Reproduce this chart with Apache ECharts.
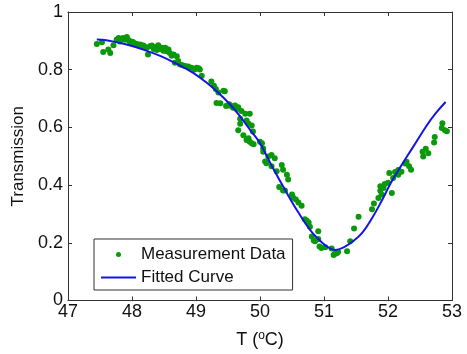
<!DOCTYPE html>
<html>
<head>
<meta charset="utf-8">
<script src="https://cdn.jsdelivr.net/npm/echarts@6/dist/echarts.min.js"></script>
<style>html,body{margin:0;padding:0;background:#fff;}#c{width:467px;height:354px;}</style>
</head>
<body>
<div id="c"></div>
<script>
// Measured data (T in degC, transmission)
const measT = [47.45,47.53,47.55,47.63,47.66,47.71,47.76,47.79,47.81,47.84,47.86,47.89,47.92,47.95,47.97,48.00,48.02,48.05,48.07,48.10,48.13,48.15,48.18,48.21,48.23,48.25,48.28,48.31,48.34,48.36,48.39,48.41,48.44,48.46,48.49,48.52,48.54,48.57,48.59,48.62,48.65,48.67,48.70,48.72,48.75,48.79,48.83,48.88,48.93,48.98,49.01,49.04,49.06,49.09,
49.24,49.28,49.31,49.32,49.35,49.38,49.43,49.45,49.47,49.50,49.52,49.56,49.58,49.61,49.64,49.66,49.66,49.69,49.69,49.71,49.74,49.77,49.79,49.79,49.82,49.82,49.84,49.84,49.87,49.87,49.89,49.90,50.00,50.03,50.05,50.05,50.08,50.10,50.13,50.18,50.18,50.23,50.26,50.30,50.34,50.36,50.36,50.39,50.42,50.44,50.50,50.52,50.56,50.60,50.65,50.70,50.73,50.76,50.78,50.81,50.84,50.86,50.91,50.91,50.93,50.96,51.02,51.12,51.15,51.17,51.20,51.22,51.36,51.41,51.47,51.54,
51.75,51.78,51.85,51.88,51.88,51.90,51.93,51.95,52.00,52.02,52.06,52.08,52.11,52.16,52.16,52.21,52.27,52.29,52.33,52.36,52.54,52.55,52.59,52.63,52.72,52.73,52.84,52.85,52.89,52.92];
const measTr = [0.889,0.895,0.861,0.870,0.858,0.885,0.904,0.910,0.898,0.906,0.910,0.904,0.913,0.902,0.893,0.897,0.895,0.888,0.890,0.885,0.887,0.880,0.884,0.878,0.876,0.853,0.881,0.884,0.872,0.879,0.868,0.885,0.872,0.876,0.866,0.876,0.864,0.870,0.858,0.848,0.853,0.824,0.847,0.830,0.818,0.815,0.813,0.811,0.807,0.801,0.807,0.805,0.801,0.779,
0.759,0.744,0.733,0.685,0.721,0.684,0.727,0.725,0.674,0.676,0.680,0.673,0.668,0.676,0.664,0.670,0.590,0.630,0.613,0.657,0.573,0.647,0.624,0.556,0.613,0.562,0.647,0.550,0.607,0.545,0.586,0.542,0.550,0.545,0.527,0.516,0.482,0.476,0.499,0.504,0.465,0.493,0.448,0.393,0.470,0.453,0.381,0.381,0.436,0.419,0.367,0.356,0.350,0.340,0.328,0.282,0.276,0.270,0.256,0.222,0.208,0.205,0.240,0.213,0.187,0.182,0.185,0.180,0.158,0.162,0.164,0.168,0.171,0.205,0.250,0.290,
0.316,0.336,0.355,0.380,0.396,0.367,0.390,0.404,0.408,0.442,0.373,0.425,0.445,0.436,0.452,0.446,0.475,0.481,0.465,0.453,0.516,0.499,0.526,0.510,0.548,0.567,0.598,0.614,0.590,0.587];
// Fitted curve samples
const fitT  = [47.45,47.60,47.90,48.20,48.45,48.70,48.95,49.15,49.35,49.55,49.70,49.85,50.00,50.20,50.40,50.60,50.80,51.00,51.10,51.17,51.30,51.45,51.60,51.75,51.90,52.05,52.20,52.40,52.60,52.75,52.90];
const fitTr = [0.905,0.902,0.888,0.868,0.847,0.820,0.790,0.758,0.720,0.675,0.635,0.590,0.545,0.460,0.380,0.305,0.240,0.195,0.180,0.175,0.183,0.205,0.235,0.285,0.345,0.410,0.465,0.535,0.605,0.650,0.688];
const xTicks = [47,48,49,50,51,52,53];
const yTicks = [0,0.2,0.4,0.6,0.8,1];

const FONT = 'Liberation Sans, Arial, Helvetica, sans-serif';
const AX = '#333333';
const chart = echarts.init(document.getElementById('c'), null, {renderer:'canvas'});
const measData = measT.map((t,i)=>[t, measTr[i]]);
const fitData = fitT.map((t,i)=>[t, fitTr[i]]);

const baseAxis = {
  axisLine:{show:true, onZero:false, lineStyle:{color:AX, width:1}},
  axisTick:{show:true, inside:true, length:4, lineStyle:{color:AX}},
  splitLine:{show:false}
};
chart.setOption({
  animation:false,
  backgroundColor:'#ffffff',
  grid:{left:68, right:15, top:12, bottom:50, containLabel:false},
  xAxis:[
    Object.assign({}, baseAxis, {
      type:'value', min:xTicks[0], max:xTicks[xTicks.length-1], interval:1, position:'bottom',
      axisLabel:{color:'#111', fontFamily:FONT, fontSize:18, margin:3},
      name:'T ({sup|o}C)', nameLocation:'middle', nameGap:29,
      nameTextStyle:{color:'#111', fontFamily:FONT, fontSize:18,
        rich:{sup:{fontSize:12, fontFamily:FONT, color:'#111', verticalAlign:'top', padding:[0,0,9,0]}}}
    }),
    Object.assign({}, baseAxis, {
      type:'value', min:xTicks[0], max:xTicks[xTicks.length-1], interval:1, position:'top',
      axisLabel:{show:false}
    })
  ],
  yAxis:[
    Object.assign({}, baseAxis, {
      type:'value', min:yTicks[0], max:yTicks[yTicks.length-1], interval:0.2, position:'left',
      axisLabel:{color:'#111', fontFamily:FONT, fontSize:18, margin:5},
      name:'Transmission', nameLocation:'middle', nameGap:37, nameRotate:90,
      nameTextStyle:{color:'#111', fontFamily:FONT, fontSize:17}
    }),
    Object.assign({}, baseAxis, {
      type:'value', min:yTicks[0], max:yTicks[yTicks.length-1], interval:0.2, position:'right',
      axisLabel:{show:false}
    })
  ],
  legend:{
    orient:'vertical', left:94, top:239,
    padding:[7,7,4,7], itemGap:6, itemWidth:35, itemHeight:5,
    borderColor:AX, borderWidth:1, backgroundColor:'#fff',
    textStyle:{fontFamily:FONT, fontSize:17, color:'#111'},
    data:[
      {name:'Measurement Data', icon:'circle'},
      {name:'Fitted Curve', icon:'path://M0,0H35V2H0Z'}
    ]
  },
  series:[
    {name:'Measurement Data', type:'scatter', data:measData, symbol:'circle', symbolSize:6,
     itemStyle:{color:'#0a990a', opacity:1}, z:2},
    {name:'Fitted Curve', type:'line', data:fitData, smooth:0.4, symbol:'none', showSymbol:false,
     lineStyle:{color:'#1414e6', width:2}, itemStyle:{color:'#1414e6'}, z:3}
  ]
});
</script>
</body>
</html>
